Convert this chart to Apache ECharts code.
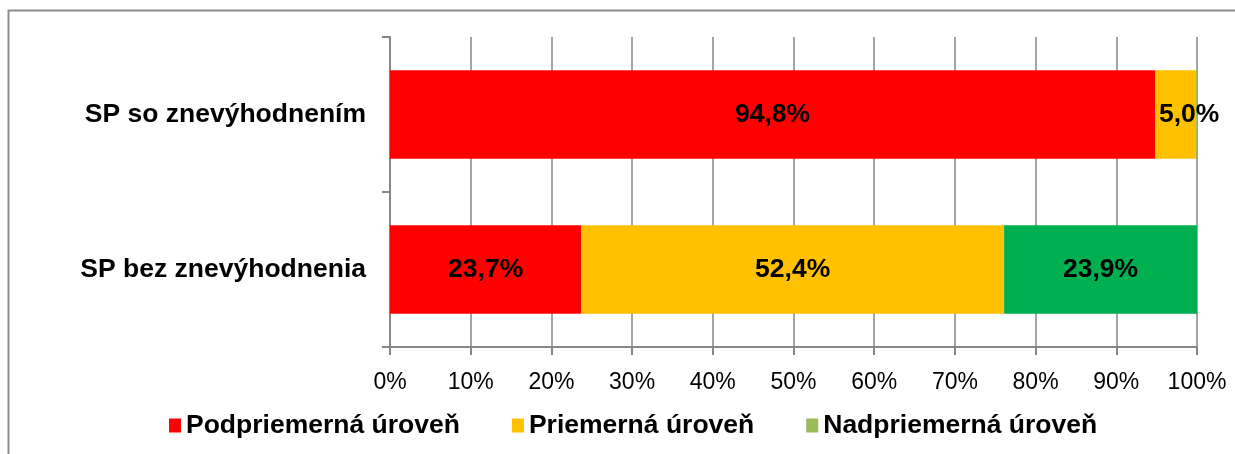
<!DOCTYPE html>
<html>
<head>
<meta charset="utf-8">
<script src="https://cdn.jsdelivr.net/npm/echarts@6/dist/echarts.min.js"></script>
<style>
  html, body { margin: 0; padding: 0; background: #fff; }
  #chart { width: 1235px; height: 454px; }
</style>
</head>
<body>
<div id="chart"></div>
<script>
const categories = ["SP so znevýhodnením", "SP bez znevýhodnenia"];
const seriesNames = ["Podpriemerná úroveň", "Priemerná úroveň", "Nadpriemerná úroveň"];
const podpriemerna = [94.8, 23.7];
const priemerna = [5.0, 52.4];
const nadpriemerna = [0.2, 23.9];
const xTicks = [0, 10, 20, 30, 40, 50, 60, 70, 80, 90, 100];

const colors = ["#FF0000", "#FFC000", "#9BBB59"];
// bottom bar's green is a darker shade than the legend swatch
const nadColors = ["#9BBB59", "#00B050"];

const fontFamily = "Liberation Sans, Arial, sans-serif";

const chart = echarts.init(document.getElementById("chart"));

const labelOpt = {
  show: true,
  position: "inside",
  color: "#000",
  fontFamily: fontFamily,
  fontWeight: "bold",
  fontSize: 26.5,
  formatter: (p) => (p.value < 1 ? "" : p.value.toFixed(1).replace(".", ",") + "%"),
};

const option = {
  animation: false,
  color: colors,
  grid: {
    left: 390,
    right: 38,
    top: 37,
    bottom: 107,
    containLabel: false,
  },
  legend: {
    data: seriesNames,
    left: 164,
    top: 407,
    icon: "rect",
    itemWidth: 12,
    itemHeight: 14,
    itemGap: 52,
    textStyle: {
      fontFamily: fontFamily,
      fontWeight: "bold",
      fontSize: 26.5,
      color: "#000",
    },
  },
  xAxis: {
    type: "value",
    min: xTicks[0],
    max: xTicks[xTicks.length - 1],
    interval: 10,
    axisLine: { show: true, lineStyle: { color: "#868686", width: 2 } },
    axisTick: { show: true, length: 8, lineStyle: { color: "#868686", width: 2 } },
    splitLine: { show: true, lineStyle: { color: "#868686", width: 1.5 } },
    axisLabel: {
      color: "#000",
      fontFamily: fontFamily,
      fontSize: 23,
      margin: 24,
      formatter: (v) => v + "%",
    },
  },
  yAxis: {
    type: "category",
    inverse: true,
    data: categories,
    axisLine: { show: true, lineStyle: { color: "#868686", width: 2 } },
    axisTick: { show: true, length: 8, alignWithLabel: false, lineStyle: { color: "#868686", width: 2 } },
    axisLabel: {
      color: "#000",
      fontFamily: fontFamily,
      fontWeight: "bold",
      fontSize: 26.5,
      margin: 24,
    },
  },
  series: [
    {
      name: seriesNames[0],
      type: "bar",
      stack: "total",
      barWidth: "57%",
      label: labelOpt,
      data: podpriemerna,
    },
    {
      name: seriesNames[1],
      type: "bar",
      stack: "total",
      barWidth: "57%",
      label: labelOpt,
      // the narrow segment's label sits a bit to the right in the original
      data: priemerna.map((v, i) => (i === 0 ? { value: v, label: { offset: [14, 0] } } : v)),
    },
    {
      name: seriesNames[2],
      type: "bar",
      stack: "total",
      barWidth: "57%",
      label: labelOpt,
      data: nadpriemerna.map((v, i) => ({ value: v, itemStyle: { color: nadColors[i] } })),
    },
  ],
  graphic: [
    {
      type: "polyline",
      shape: { points: [[8.5, 454], [8.5, 10.5], [1235, 10.5]] },
      style: { stroke: "#8C8C8C", lineWidth: 2, fill: null },
      silent: true,
    },
  ],
};

chart.setOption(option);
</script>
</body>
</html>
